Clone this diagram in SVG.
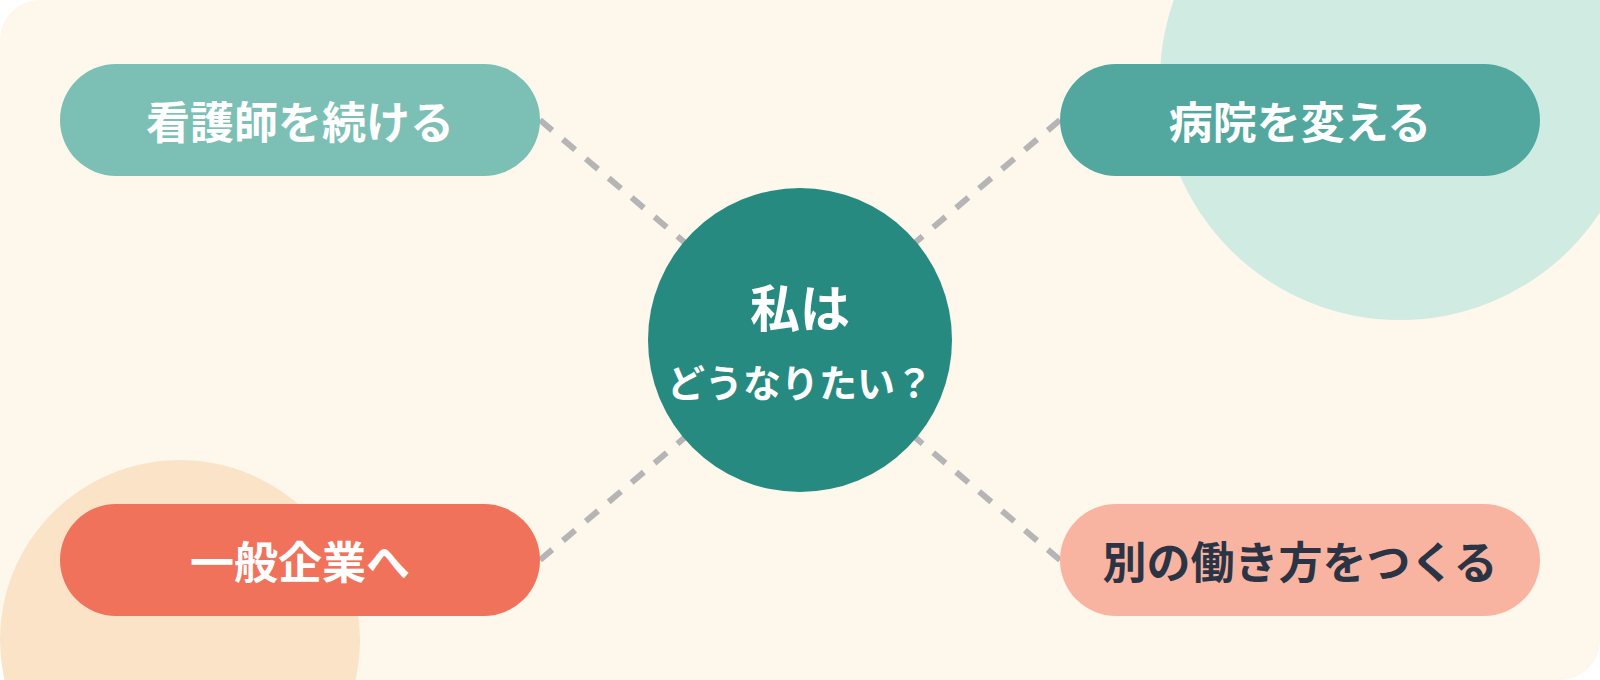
<svg xmlns="http://www.w3.org/2000/svg" width="1600" height="680" viewBox="0 0 1600 680">
<defs>
<style>
.lbl{font-family:"Noto Sans CJK JP","Noto Sans",sans-serif;font-weight:700;text-anchor:middle;dominant-baseline:central}
.conn{stroke:#B5B5B5;stroke-width:6;stroke-dasharray:16 14;fill:none}
</style>
</defs>
<rect x="0" y="0" width="1600" height="680" fill="#FFFFFF"/>
<rect x="0" y="0" width="1600" height="680" rx="40" ry="40" fill="#FEF7EC"/>
<circle cx="1400" cy="80" r="240" fill="#D0EBE2"/>
<circle cx="180" cy="640" r="180" fill="#FAE3C6"/>
<g id="connectors">
<line class="conn" x1="540" y1="120" x2="800" y2="340"/>
<line class="conn" x1="1060" y1="120" x2="800" y2="340"/>
<line class="conn" x1="540" y1="560" x2="800" y2="340"/>
<line class="conn" x1="1060" y1="560" x2="800" y2="340"/>
</g>
<g id="center">
<circle cx="800" cy="340" r="152" fill="#268A80"/>
<text class="lbl" x="800" y="305" font-size="50" fill="#FFFFFF">私は</text>
<text class="lbl" x="800" y="380" font-size="38" fill="#FFFFFF">どうなりたい？</text>
</g>
<g id="node-continue">
<rect x="60" y="64" width="480" height="112" rx="56" fill="#7BBFB5"/>
<text class="lbl" x="300" y="120" font-size="44" fill="#FFFFFF">看護師を続ける</text>
</g>
<g id="node-hospital">
<rect x="1060" y="64" width="480" height="112" rx="56" fill="#52A89E"/>
<text class="lbl" x="1300" y="120" font-size="44" fill="#FFFFFF">病院を変える</text>
</g>
<g id="node-company">
<rect x="60" y="504" width="480" height="112" rx="56" fill="#F0725B"/>
<text class="lbl" x="300" y="560" font-size="44" fill="#FFFFFF">一般企業へ</text>
</g>
<g id="node-other">
<rect x="1060" y="504" width="480" height="112" rx="56" fill="#F8B4A0"/>
<text class="lbl" x="1300" y="560" font-size="44" fill="#2B3445">別の働き方をつくる</text>
</g>
</svg>
